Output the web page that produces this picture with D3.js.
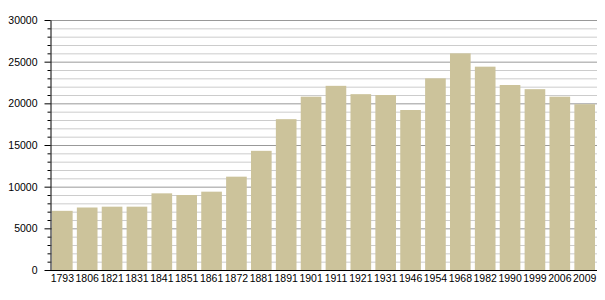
<!DOCTYPE html>
<html>
<head>
<meta charset="utf-8">
<script src="https://cdn.jsdelivr.net/npm/d3@7"></script>
<style>
  body { margin: 0; background: #fff; }
  text { font-family: "Liberation Sans", Arial, sans-serif; }
</style>
</head>
<body>
<div id="chart"></div>
<script>
// census years and population
var years = ['1793', '1806', '1821', '1831', '1841', '1851', '1861', '1872', '1881', '1891', '1901',
  '1911', '1921', '1931', '1946', '1954', '1968', '1982', '1990', '1999', '2006', '2009'];
var population = [7100, 7500, 7600, 7600, 9200, 9000, 9400, 11200, 14300, 18100, 20800,
  22100, 21100, 21000, 19200, 23000, 26000, 24400, 22200, 21700, 20800, 19900];
var majorTicks = [0, 5000, 10000, 15000, 20000, 25000, 30000];

var width = 605, height = 300;
var margin = { top: 20, left: 50, bottom: 30, right: 8 };

var svg = d3.select('#chart').append('svg')
  .attr('width', width)
  .attr('height', height);

var x = d3.scaleBand()
  .domain(years)
  .range([margin.left, width - margin.right])
  .paddingInner(0.17)
  .paddingOuter(0.08);

var y = d3.scaleLinear()
  .domain([0, 30000])
  .range([height - margin.bottom, margin.top]);

var minorTicks = d3.range(0, 30001, 1000).filter(function (d) { return d % 5000 !== 0; });

// grid lines
svg.append('g').selectAll('line.minor')
  .data(minorTicks).enter()
  .append('line')
  .attr('x1', margin.left).attr('x2', width - margin.right)
  .attr('y1', function (d) { return y(d) + 0.5; })
  .attr('y2', function (d) { return y(d) + 0.5; })
  .attr('stroke', '#cccccc');

svg.append('g').selectAll('line.major')
  .data(majorTicks).enter()
  .append('line')
  .attr('x1', margin.left).attr('x2', width - margin.right)
  .attr('y1', function (d) { return y(d) + 0.5; })
  .attr('y2', function (d) { return y(d) + 0.5; })
  .attr('stroke', '#999999');

// bars
svg.append('g').selectAll('rect')
  .data(population).enter()
  .append('rect')
  .attr('x', function (d, i) { return x(years[i]); })
  .attr('width', x.bandwidth())
  .attr('y', function (d) { return y(d); })
  .attr('height', function (d) { return y(0) - y(d); })
  .attr('fill', '#ccc39b');

// y axis, major ticks with labels
var yAxis = svg.append('g')
  .attr('transform', 'translate(' + (margin.left + 0.5) + ',0)')
  .call(d3.axisLeft(y).tickValues(majorTicks).tickFormat(d3.format('d'))
    .tickSize(6).tickPadding(7).tickSizeOuter(0));
yAxis.selectAll('.tick text').attr('font-size', 10.5);

// minor ticks
svg.append('g')
  .attr('transform', 'translate(' + (margin.left + 0.5) + ',0)')
  .call(d3.axisLeft(y).tickValues(minorTicks).tickSize(3).tickFormat('').tickSizeOuter(0))
  .select('.domain').remove();

// x axis
var xAxis = svg.append('g')
  .attr('transform', 'translate(0,' + (y(0) + 0.5) + ')')
  .call(d3.axisBottom(x).tickSize(0).tickPadding(4).tickSizeOuter(0));
xAxis.select('.domain').attr('d', 'M' + margin.left + ',0H' + (width - margin.right));
xAxis.selectAll('.tick text').attr('font-size', 10.5);

svg.selectAll('.tick text')
  .attr('font-family', '"Liberation Sans", Arial, sans-serif')
  .attr('fill', '#000');
svg.selectAll('.domain, .tick line').attr('stroke', '#000');
</script>
</body>
</html>
